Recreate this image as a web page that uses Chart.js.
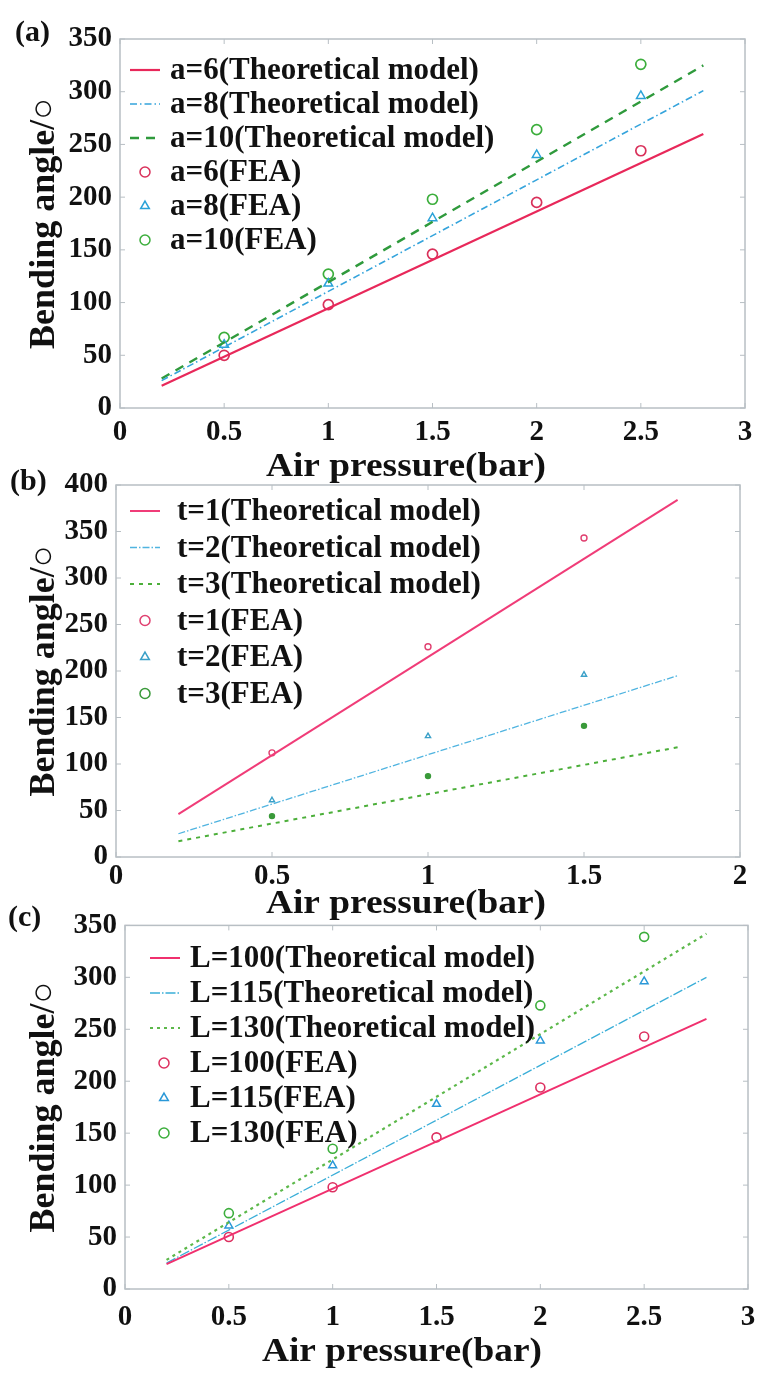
<!DOCTYPE html>
<html lang="en">
<head>
<meta charset="UTF-8">
<title>Bending angle vs air pressure</title>
<script src="https://cdn.jsdelivr.net/npm/chart.js"></script>
<style>
  body { margin: 0; background: #fff; }
  #wrap { position: relative; width: 773px; height: 1388px; overflow: hidden; }
  #wrap canvas { position: absolute; left: 0; }
</style>
</head>
<body>
<div id="wrap">
  <canvas id="chartA" width="773" height="489" style="top:0px"></canvas>
  <canvas id="chartB" width="773" height="480" style="top:450px"></canvas>
  <canvas id="chartC" width="773" height="488" style="top:900px"></canvas>
</div>
<script>
// ---- panel (a): a = 6 / 8 / 10 ----
const xLineA = [0.2, 2.8];
const a6Theory = [21, 260];
const a8Theory = [26, 301];
const a10Theory = [28, 325];
const xFeaA = [0.5, 1, 1.5, 2, 2.5];
const a6Fea = [50, 98, 146, 195, 244];
const a8Fea = [60, 118, 180, 240, 296];
const a10Fea = [67, 127, 198, 264, 326];
const xTicksA = [0, 0.5, 1, 1.5, 2, 2.5, 3];
const yTicksA = [0, 50, 100, 150, 200, 250, 300, 350];

// ---- panel (b): t = 1 / 2 / 3 ----
const xLineB = [0.2, 1.8];
const t1Theory = [46, 384];
const t2Theory = [25, 195];
const t3Theory = [17, 118];
const xFeaB = [0.5, 1, 1.5];
const t1Fea = [112, 226, 343];
const t2Fea = [61, 130, 196];
const t3Fea = [44, 87, 141];
const xTicksB = [0, 0.5, 1, 1.5, 2];
const yTicksB = [0, 50, 100, 150, 200, 250, 300, 350, 400];

// ---- panel (c): L = 100 / 115 / 130 ----
const xLineC = [0.2, 2.8];
const L100Theory = [24, 260];
const L115Theory = [25, 300];
const L130Theory = [28, 342];
const xFeaC = [0.5, 1, 1.5, 2, 2.5];
const L100Fea = [50, 98, 146, 194, 243];
const L115Fea = [61, 119, 178, 239, 296];
const L130Fea = [73, 135, null, 273, 339];   // 1.5 point hidden under the triangle
const xTicksC = [0, 0.5, 1, 1.5, 2, 2.5, 3];
const yTicksC = [0, 50, 100, 150, 200, 250, 300, 350];

const SERIF = '"Liberation Serif", "Times New Roman", serif';
const INK = '#111';

function pts(xs, ys) {
    return xs.map((x, i) => ({ x: x, y: ys[i] })).filter(p => p.y !== null);
}

function theory(label, xs, ys, color, width, dash) {
    return {
        label, data: pts(xs, ys), showLine: true,
        borderColor: color, borderWidth: width, borderDash: dash,
        pointRadius: 0, pointHoverRadius: 0, fill: false
    };
}

function fea(label, xs, ys, color, style, r, bw, fillCol) {
    return {
        label, data: pts(xs, ys), showLine: false,
        pointStyle: style, pointRadius: r, pointBorderWidth: bw,
        pointBorderColor: color, borderColor: color,
        pointBackgroundColor: fillCol || 'rgba(255,255,255,0)',
        backgroundColor: fillCol || 'rgba(255,255,255,0)'
    };
}

// frame + inward tick marks on all four sides
const framePlugin = {
    id: 'frame',
    beforeDatasetsDraw(chart) {
        const { ctx, chartArea: a, scales } = chart;
        ctx.save();
        ctx.strokeStyle = '#b8bfc4';
        ctx.lineWidth = 1.5;
        ctx.strokeRect(a.left, a.top, a.right - a.left, a.bottom - a.top);
        ctx.lineWidth = 1;
        ctx.beginPath();
        scales.x.ticks.forEach(t => {
            const px = scales.x.getPixelForValue(t.value);
            ctx.moveTo(px, a.bottom); ctx.lineTo(px, a.bottom - 5);
            ctx.moveTo(px, a.top); ctx.lineTo(px, a.top + 5);
        });
        scales.y.ticks.forEach(t => {
            const py = scales.y.getPixelForValue(t.value);
            ctx.moveTo(a.left, py); ctx.lineTo(a.left + 5, py);
            ctx.moveTo(a.right, py); ctx.lineTo(a.right - 5, py);
        });
        ctx.stroke();
        ctx.restore();
    }
};

// legend drawn inside the plot, one row per dataset
const insideLegend = {
    id: 'insideLegend',
    afterDatasetsDraw(chart, args, o) {
        const ctx = chart.ctx;
        ctx.save();
        chart.data.datasets.forEach((ds, i) => {
            const y = o.y0 + i * o.step;
            if (ds.showLine) {
                ctx.strokeStyle = ds.borderColor;
                ctx.lineWidth = ds.borderWidth;
                ctx.setLineDash(ds.borderDash || []);
                ctx.beginPath();
                ctx.moveTo(o.lineFrom, y);
                ctx.lineTo(o.lineTo, y);
                ctx.stroke();
                ctx.setLineDash([]);
            } else {
                ctx.strokeStyle = ds.pointBorderColor;
                ctx.fillStyle = 'rgba(255,255,255,0)';
                ctx.lineWidth = 1.5;
                Chart.helpers.drawPoint(ctx, {
                    pointStyle: ds.pointStyle, radius: o.markerR,
                    borderWidth: 1.5, rotation: 0
                }, o.markerX, y);
            }
            ctx.fillStyle = INK;
            ctx.font = 'bold ' + o.size + 'px ' + SERIF;
            ctx.textAlign = 'left';
            ctx.textBaseline = 'middle';
            ctx.fillText(ds.label, o.textX, y + 1);
        });
        ctx.restore();
    }
};

// panel tag and the x axis title (sits left of the plot centre, slightly condensed type)
const tagPlugin = {
    id: 'tag',
    afterDraw(chart, args, o) {
        const ctx = chart.ctx;
        ctx.save();
        ctx.fillStyle = INK;
        ctx.textBaseline = 'middle';
        ctx.font = 'bold 30px ' + SERIF;
        ctx.textAlign = 'left';
        ctx.fillText(o.text, o.x, o.y);
        ctx.translate(o.titleX, o.titleY);
        ctx.scale(1.1, 1);
        ctx.font = 'bold 34px ' + SERIF;
        ctx.textAlign = 'center';
        ctx.fillText('Air pressure(bar)', 0, 0);
        ctx.restore();
    }
};

function makePanel(p) {
    const H = p.height;
    new Chart(document.getElementById(p.id), {
        type: 'scatter',
        data: { datasets: p.datasets },
        options: {
            responsive: false,
            animation: false,
            events: [],
            layout: { padding: { left: 0, top: p.areaTop, right: 773 - p.areaRight, bottom: 0 } },
            scales: {
                x: {
                    type: 'linear', min: 0, max: p.xTicks[p.xTicks.length - 1],
                    afterBuildTicks: s => { s.ticks = p.xTicks.map(v => ({ value: v })); },
                    afterFit: s => { s.height = H - p.areaBottom; },
                    grid: { display: false, drawTicks: false },
                    border: { display: false },
                    ticks: {
                        padding: p.xPad, color: INK, maxRotation: 0, autoSkip: false,
                        font: { family: SERIF, size: 29, weight: 'bold' },
                        callback: v => String(v)
                    },
                    title: { display: false }
                },
                y: {
                    type: 'linear', min: 0, max: p.yTicks[p.yTicks.length - 1],
                    afterBuildTicks: s => { s.ticks = p.yTicks.map(v => ({ value: v })); },
                    afterFit: s => { s.width = p.areaLeft; },
                    grid: { display: false, drawTicks: false },
                    border: { display: false },
                    ticks: {
                        padding: 8, color: INK, autoSkip: false,
                        font: { family: SERIF, size: 29, weight: 'bold' }
                    },
                    title: {
                        display: true, text: 'Bending angle/○', color: INK,
                        font: { family: SERIF, size: 36, weight: 'bold', lineHeight: 1.2 },
                        padding: { top: 23, bottom: 0 }
                    }
                }
            },
            plugins: {
                legend: { display: false },
                tooltip: { enabled: false },
                insideLegend: p.legend,
                tag: p.tag
            }
        },
        plugins: [framePlugin, insideLegend, tagPlugin]
    });
}

makePanel({
    id: 'chartA', height: 489, areaTop: 39, areaBottom: 408, areaLeft: 120, areaRight: 745, xPad: 7,
    xTicks: xTicksA, yTicks: yTicksA,
    tag: { text: '(a)', x: 15, y: 33, titleX: 406, titleY: 467 },
    legend: { y0: 70, step: 34, lineFrom: 130, lineTo: 160, markerX: 145, markerR: 5, textX: 170, size: 31 },
    datasets: [
        theory('a=6(Theoretical model)', xLineA, a6Theory, '#e8285a', 2.2, []),
        theory('a=8(Theoretical model)', xLineA, a8Theory, '#35a4dc', 1.6, [7, 3, 1.5, 3]),
        theory('a=10(Theoretical model)', xLineA, a10Theory, '#2f9a3c', 2.4, [9, 7]),
        fea('a=6(FEA)', xFeaA, a6Fea, '#d9305a', 'circle', 5, 1.7),
        fea('a=8(FEA)', xFeaA, a8Fea, '#2aa2d8', 'triangle', 5, 1.5),
        fea('a=10(FEA)', xFeaA, a10Fea, '#3cae3c', 'circle', 5, 1.7)
    ]
});

makePanel({
    id: 'chartB', height: 480, areaTop: 35, areaBottom: 407, areaLeft: 116, areaRight: 740, xPad: 2,
    xTicks: xTicksB, yTicks: yTicksB,
    tag: { text: '(b)', x: 10, y: 32, titleX: 406, titleY: 454 },
    legend: { y0: 61, step: 36.5, lineFrom: 130, lineTo: 160, markerX: 145, markerR: 5, textX: 177, size: 31 },
    datasets: [
        theory('t=1(Theoretical model)', xLineB, t1Theory, '#f03c78', 2, []),
        theory('t=2(Theoretical model)', xLineB, t2Theory, '#50b4e0', 1.3, [7, 2, 1.5, 2]),
        theory('t=3(Theoretical model)', xLineB, t3Theory, '#4caf3a', 2, [4, 5]),
        fea('t=1(FEA)', xFeaB, t1Fea, '#e04070', 'circle', 3, 1.4),
        fea('t=2(FEA)', xFeaB, t2Fea, '#3aa0c8', 'triangle', 3, 1.4),
        fea('t=3(FEA)', xFeaB, t3Fea, '#3a9a3a', 'circle', 2.5, 1.4, '#3a9a3a')
    ]
});

makePanel({
    id: 'chartC', height: 488, areaTop: 25, areaBottom: 389, areaLeft: 125, areaRight: 748, xPad: 11,
    xTicks: xTicksC, yTicks: yTicksC,
    tag: { text: '(c)', x: 8, y: 18, titleX: 402, titleY: 452 },
    legend: { y0: 58, step: 35, lineFrom: 150, lineTo: 180, markerX: 164, markerR: 5, textX: 190, size: 31 },
    datasets: [
        theory('L=100(Theoretical model)', xLineC, L100Theory, '#f0306e', 2, []),
        theory('L=115(Theoretical model)', xLineC, L115Theory, '#3aaed8', 1.3, [10, 2, 1.5, 2]),
        theory('L=130(Theoretical model)', xLineC, L130Theory, '#5cb84a', 2.2, [3, 4]),
        fea('L=100(FEA)', xFeaC, L100Fea, '#dd3060', 'circle', 4.5, 1.6),
        fea('L=115(FEA)', xFeaC, L115Fea, '#2a98d8', 'triangle', 4.5, 1.5),
        fea('L=130(FEA)', xFeaC, L130Fea, '#3cae3c', 'circle', 4.5, 1.6)
    ]
});
</script>
</body>
</html>
